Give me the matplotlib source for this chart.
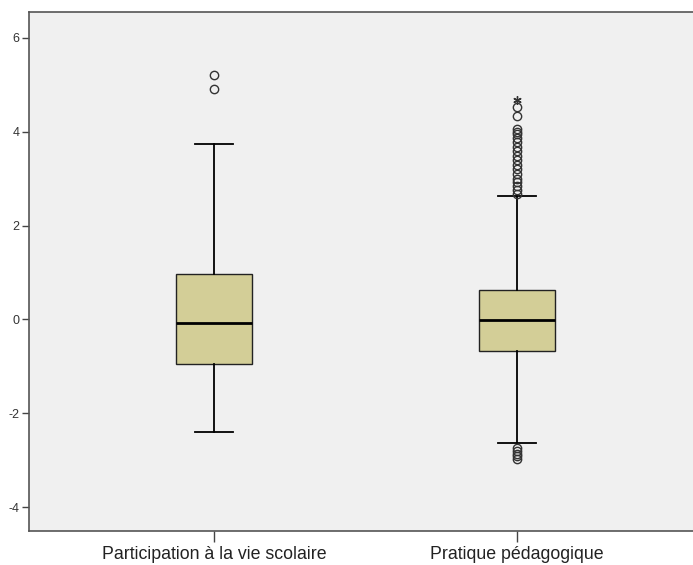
import matplotlib
matplotlib.use('Agg')
import matplotlib.pyplot as plt

plt.rcParams['font.family'] = ['Liberation Sans', 'DejaVu Sans']

# Box statistics
labels = ['Participation à la vie scolaire', 'Pratique pédagogique']
q1 = [-0.96, -0.68]
med = [-0.07, -0.02]
q3 = [0.96, 0.62]
whislo = [-2.40, -2.64]
whishi = [3.74, 2.62]
outliers = [
    [5.21, 4.91],
    [4.52, 4.34, 4.06, 4.00, 3.94, 3.86, 3.78, 3.68, 3.58, 3.48, 3.40, 3.30,
     3.20, 3.10, 3.00, 2.92, 2.84, 2.76, 2.67, -2.74, -2.81, -2.86, -2.92, -2.98],
]
extremes = [[], [4.68]]

box_color = '#D3CE97'
bg_color = '#F0F0F0'

stats = []
for i in range(len(labels)):
    stats.append({
        'label': labels[i], 'q1': q1[i], 'med': med[i], 'q3': q3[i],
        'whislo': whislo[i], 'whishi': whishi[i], 'fliers': outliers[i],
    })

fig = plt.figure(figsize=(6.93, 5.65), dpi=100)
ax = fig.add_axes([29 / 693, 1 - 531 / 565, 664 / 693, 519 / 565])
ax.set_facecolor(bg_color)

ax.bxp(stats, positions=[1, 2], widths=0.25, patch_artist=True,
       boxprops=dict(facecolor=box_color, edgecolor='#222222', linewidth=1),
       medianprops=dict(color='black', linewidth=2),
       whiskerprops=dict(color='black', linewidth=1.3),
       capprops=dict(color='black', linewidth=1.3),
       capwidths=0.125,
       flierprops=dict(marker='o', markerfacecolor='none', markeredgecolor='#333333',
                       markersize=6, markeredgewidth=1))

for i, ext in enumerate(extremes):
    if ext:
        ax.plot([i + 1] * len(ext), ext, linestyle='none', marker=(6, 2, 0),
                color='#333333', markersize=6)

ax.set_xlim(0.389, 2.58)
ax.set_ylim(-4.51, 6.55)
ax.set_yticks([-4, -2, 0, 2, 4, 6])
ax.set_yticklabels(['-4', '-2', '0', '2', '4', '6'])
ax.set_xticks([1, 2])
ax.set_xticklabels(labels, fontsize=12.8, color='#222222')

ax.tick_params(axis='y', direction='out', length=5, width=1, labelsize=9,
               color='#444444', labelcolor='#333333', pad=2)
ax.tick_params(axis='x', direction='out', length=8, width=1, color='#444444', pad=3)

for side in ['left', 'bottom', 'top']:
    ax.spines[side].set_color('#555555')
    ax.spines[side].set_linewidth(1.2)
ax.spines['right'].set_visible(False)

fig.savefig('out.png', dpi=100, facecolor='white')
